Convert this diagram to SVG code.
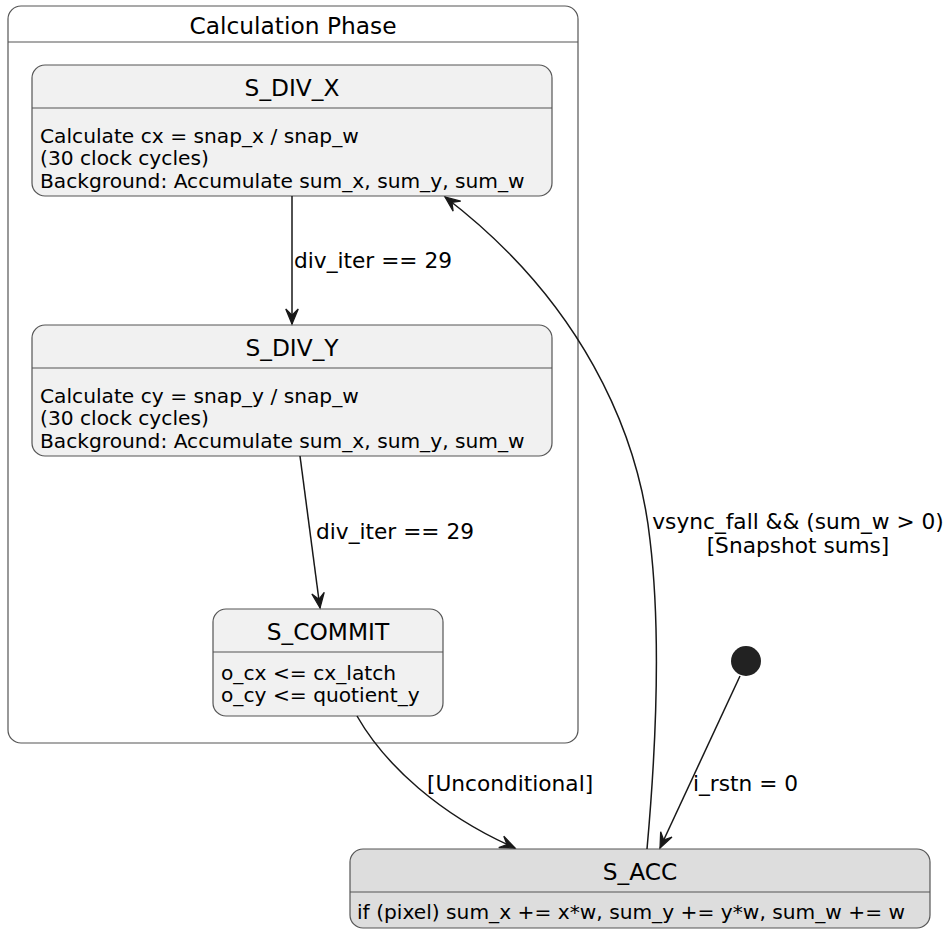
<svg xmlns="http://www.w3.org/2000/svg" width="951" height="930" viewBox="0 0 951 930">
<style>
text{font-family:"DejaVu Sans","Liberation Sans",sans-serif;fill:#000}
.t{font-size:23.3px;text-anchor:middle}
.b{font-size:20.2px}
.l{font-size:21.7px}
.st{fill:#F1F1F1;stroke:#555;stroke-width:1.2}
.acc{fill:#DDDDDD;stroke:#555;stroke-width:1.2}
.sep{stroke:#555;stroke-width:1.2}
.e{fill:none;stroke:#181818;stroke-width:1.5;marker-end:url(#ah)}
</style>
<defs>
<marker id="ah" markerUnits="userSpaceOnUse" markerWidth="20" markerHeight="20" refX="0" refY="0" viewBox="-14 -7 16 14" orient="auto" overflow="visible">
<path d="M0,0 L-12,-5 L-7,0 L-12,5 Z" fill="#181818" stroke="#181818" stroke-width="1"/>
</marker>
</defs>
<rect width="951" height="930" fill="#fff"/>
<g id="calc_phase">
<rect x="8" y="6" width="570" height="737" rx="13" fill="#fff" stroke="#555" stroke-width="1.2"/>
<line class="sep" x1="8" y1="42" x2="578" y2="42"/>
<text class="t" x="293" y="34">Calculation Phase</text>
</g>
<g id="S_DIV_X">
<rect class="st" x="32" y="65" width="520" height="131" rx="13"/>
<line class="sep" x1="32" y1="108" x2="552" y2="108"/>
<text class="t" x="292" y="96">S_DIV_X</text>
<text class="b" x="40" y="143">Calculate cx = snap_x / snap_w</text>
<text class="b" x="40" y="165">(30 clock cycles)</text>
<text class="b" x="40" y="188">Background: Accumulate sum_x, sum_y, sum_w</text>
</g>
<g id="S_DIV_Y">
<rect class="st" x="32" y="325" width="520" height="131" rx="13"/>
<line class="sep" x1="32" y1="368" x2="552" y2="368"/>
<text class="t" x="292" y="356">S_DIV_Y</text>
<text class="b" x="40" y="403">Calculate cy = snap_y / snap_w</text>
<text class="b" x="40" y="425">(30 clock cycles)</text>
<text class="b" x="40" y="448">Background: Accumulate sum_x, sum_y, sum_w</text>
</g>
<g id="S_COMMIT">
<rect class="st" x="213" y="609" width="230" height="107" rx="13"/>
<line class="sep" x1="213" y1="652" x2="443" y2="652"/>
<text class="t" x="328" y="640">S_COMMIT</text>
<text class="b" x="221" y="680">o_cx &lt;= cx_latch</text>
<text class="b" x="221" y="702">o_cy &lt;= quotient_y</text>
</g>
<g id="initial">
<circle cx="746" cy="661" r="15" fill="#222"/>
</g>
<g id="S_ACC">
<rect class="acc" x="350" y="849" width="580" height="79" rx="13"/>
<line class="sep" x1="350" y1="892" x2="930" y2="892"/>
<text class="t" x="640" y="880">S_ACC</text>
<text class="b" x="357" y="919">if (pixel) sum_x += x*w, sum_y += y*w, sum_w += w</text>
</g>
<g id="connectors">
<path class="e" d="M292,196 L292,324"/>
<text class="l" x="294" y="268">div_iter == 29</text>
<path class="e" d="M300,456 L320,608"/>
<text class="l" x="316" y="539">div_iter == 29</text>
<path class="e" d="M357,716 C385,765 440,815 515,848"/>
<text class="l" x="427" y="791">[Unconditional]</text>
<path class="e" d="M740,676 L660,848"/>
<text class="l" x="693" y="791">i_rstn = 0</text>
<path class="e" d="M647,849 C655,760 662,640 650,540 C638,430 580,300 445,197"/>
<text class="l" x="798" y="529" text-anchor="middle">vsync_fall &amp;&amp; (sum_w &gt; 0)</text>
<text class="l" x="798" y="553" text-anchor="middle">[Snapshot sums]</text>
</g>
</svg>
